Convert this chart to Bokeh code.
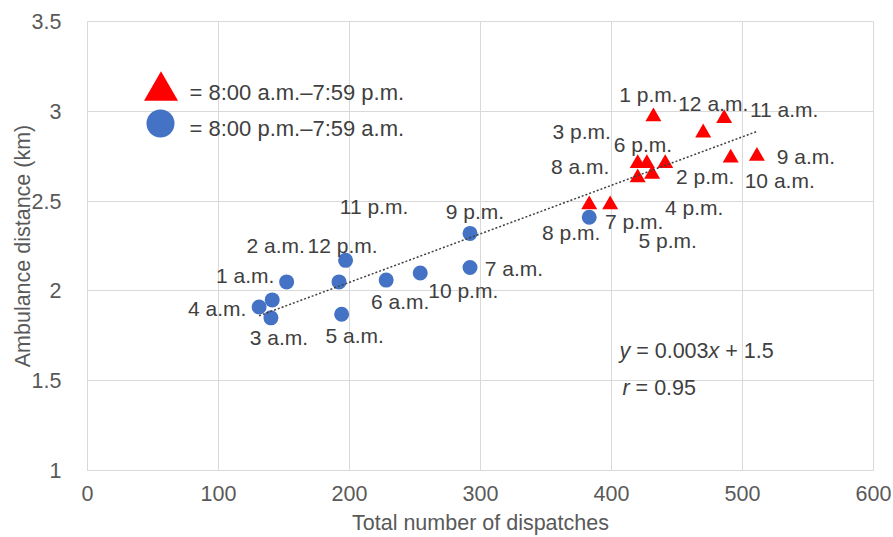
import numpy as np
from bokeh.plotting import figure
from bokeh.models import (ColumnDataSource, Range1d, FixedTicker, NumeralTickFormatter,
                          Legend, LegendItem, Label)
from bokeh.core.properties import value
from bokeh.embed import file_html
from bokeh.resources import INLINE

# ---------------- data ----------------
hours_night = ["1 a.m.", "2 a.m.", "3 a.m.", "4 a.m.", "5 a.m.", "6 a.m.", "7 a.m.",
               "8 p.m.", "9 p.m.", "10 p.m.", "11 p.m.", "12 p.m."]
dispatches_night = [141, 152, 140, 131, 194, 228, 292, 383, 292, 254, 192, 197]
distance_night = [1.95, 2.05, 1.85, 1.91, 1.87, 2.06, 2.13, 2.41, 2.32, 2.10, 2.05, 2.17]

hours_day = ["8 a.m.", "9 a.m.", "10 a.m.", "11 a.m.", "12 a.m.", "1 p.m.", "2 p.m.",
             "3 p.m.", "4 p.m.", "5 p.m.", "6 p.m.", "7 p.m."]
dispatches_day = [383, 511, 491, 486, 470, 432, 441, 420, 431, 420, 427, 399]
distance_day = [2.48, 2.75, 2.74, 2.96, 2.88, 2.97, 2.71, 2.71, 2.65, 2.63, 2.71, 2.48]

x_ticks = [0, 100, 200, 300, 400, 500, 600]
y_ticks = [1, 1.5, 2, 2.5, 3, 3.5]

legend_day = "= 8:00 a.m.\u20137:59 p.m."
legend_night = "= 8:00 p.m.\u20137:59 a.m."

# label offsets in screen pixels (style, not data)
dx_night = [-27, -11, 8, -42, 13, 14, 44, -18, 5, 43, 35, -3]
dy_night = [-24, -36, 20, 1, 21, 21, 1, 15, -22, 18, -75, -15]
dx_day = [-9, 49, 49, 60, 10, -5, 40, -56, 42, 30, -4, 24]
dy_day = [-38, 0, 23, -9, -29, -22, 13, -32, 33, 63, -19, 17]

FONT = "Liberation Sans"
TXT = "#404040"
AX = "#595959"
GRID = "#d9d9d9"

src_night = ColumnDataSource(dict(x=dispatches_night, y=distance_night, t=hours_night,
                                  dx=dx_night, dy=dy_night))
src_day = ColumnDataSource(dict(x=dispatches_day, y=distance_day, t=hours_day,
                                dx=dx_day, dy=dy_day))

p = figure(width=892, height=537, output_backend="svg", toolbar_location=None,
           x_range=Range1d(0, 600), y_range=Range1d(1, 3.5),
           min_border_left=87, min_border_right=19, min_border_top=21, min_border_bottom=67,
           background_fill_color="white", border_fill_color="white")
p.outline_line_color = GRID

for ax in (p.xaxis[0], p.yaxis[0]):
    ax.major_tick_line_color = None
    ax.minor_tick_line_color = None
    ax.axis_line_color = GRID
    ax.major_label_text_font = FONT
    ax.major_label_text_font_size = "21.5px"
    ax.major_label_text_color = AX
    ax.axis_label_text_font = FONT
    ax.axis_label_text_font_size = "21.5px"
    ax.axis_label_text_color = AX
    ax.axis_label_text_font_style = "normal"

p.xaxis.ticker = FixedTicker(ticks=x_ticks)
p.yaxis.ticker = FixedTicker(ticks=y_ticks)
p.yaxis.formatter = NumeralTickFormatter(format="0.[0]")
p.xaxis.axis_label = "Total number of dispatches"
p.yaxis.axis_label = "Ambulance distance (km)"
p.xaxis.major_label_standoff = 9
p.xaxis.axis_label_standoff = 7
p.yaxis.major_label_standoff = 20
p.yaxis.axis_label_standoff = -6

p.xgrid.ticker = FixedTicker(ticks=x_ticks)
p.ygrid.ticker = FixedTicker(ticks=y_ticks)
p.grid.grid_line_color = GRID
p.grid.grid_line_width = 1

r_night = p.scatter("x", "y", source=src_night, marker="circle", size=15,
                    fill_color="#4472C4", line_color=None)
r_day = p.scatter("x", "y", source=src_day, marker="triangle", size=16,
                  fill_color="#FF0000", line_color=None)

# trend line from least-squares fit of all points
all_x = np.array(dispatches_night + dispatches_day, dtype=float)
all_y = np.array(distance_night + distance_day, dtype=float)
slope, intercept = np.polyfit(all_x, all_y, 1)
tx = [all_x.min(), all_x.max()]
ty = [slope * v + intercept for v in tx]
p.line(tx, ty, line_color="#404040", line_width=1.5, line_dash="2 2")

for src in (src_night, src_day):
    p.text("x", "y", text="t", source=src, x_offset="dx", y_offset="dy",
           text_font=value(FONT), text_font_size="21px", text_color=TXT,
           text_align="center", text_baseline="middle")

# legend keys (big markers) – labels drawn separately as text annotations
leg1 = Legend(items=[LegendItem(label="", renderers=[r_day])],
              location=(30.5, 337.5), glyph_width=85, glyph_height=85,
              label_standoff=0, padding=0, margin=0, border_line_alpha=0,
              background_fill_alpha=0, label_width=0)
leg2 = Legend(items=[LegendItem(label="", renderers=[r_night])],
              location=(38, 312), glyph_width=70, glyph_height=70,
              label_standoff=0, padding=0, margin=0, border_line_alpha=0,
              background_fill_alpha=0, label_width=0)
p.add_layout(leg1)
p.add_layout(leg2)

for txt, yy in [(legend_day, 378.5), (legend_night, 342.5)]:
    p.add_layout(Label(x=102, y=yy, x_units="screen", y_units="screen", text=txt,
                       text_font=FONT, text_font_size="22px", text_color=TXT,
                       text_baseline="middle", text_align="left"))

# regression annotation
eq_parts = [("y", "italic", 0.0), ("= 0.003", "normal", 16.7), ("x", "italic", 89.0),
            ("+ 1.5", "normal", 105.8)]
for txt, style, off in eq_parts:
    p.add_layout(Label(x=532 + off, y=120, x_units="screen", y_units="screen", text=txt,
                       text_font=FONT, text_font_size="21.5px", text_font_style=style,
                       text_color=TXT, text_baseline="middle", text_align="left"))
for txt, style, off in [("r", "italic", 0.0), ("= 0.95", "normal", 13.1)]:
    p.add_layout(Label(x=535 + off, y=83, x_units="screen", y_units="screen", text=txt,
                       text_font=FONT, text_font_size="21.5px", text_font_style=style,
                       text_color=TXT, text_baseline="middle", text_align="left"))

open("out.html", "w").write(file_html(p, INLINE))
